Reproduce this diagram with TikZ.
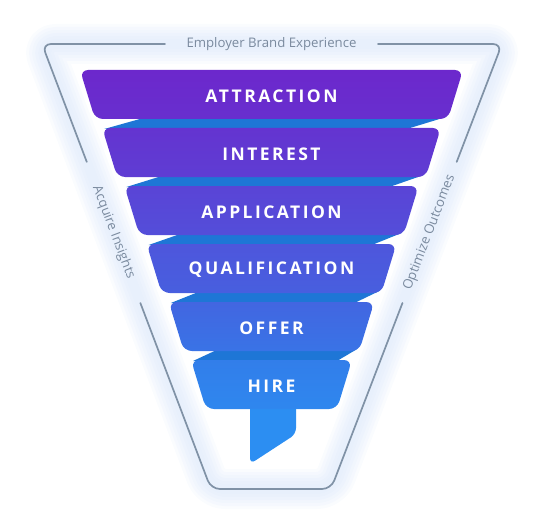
\documentclass[tikz,border=0pt]{standalone}
\usepackage{fontspec}
\setmainfont{Open Sans}
\newfontfamily\bandfont[LetterSpace=14]{Open Sans}
\usetikzlibrary{calc}
\definecolor{framec}{RGB}{128,146,166}
\definecolor{labelc}{RGB}{122,138,158}
\definecolor{glowc}{RGB}{214,228,250}
\definecolor{ribbonc}{RGB}{30,118,214}
\definecolor{fun0}{RGB}{108,40,204}
\definecolor{fun1}{RGB}{100,52,208}
\definecolor{fun2}{RGB}{90,68,214}
\definecolor{fun3}{RGB}{78,86,220}
\definecolor{fun4}{RGB}{66,102,225}
\definecolor{fun5}{RGB}{50,126,234}
\definecolor{fun6}{RGB}{44,142,242}
\tikzset{frame/.style={draw=framec,line width=1.7pt,rounded corners=9pt,line cap=round},
 sidelbl/.style={text=labelc,font=\fontsize{13.2}{15}\selectfont,inner sep=0pt},
 bandlbl/.style={text=white,font=\bandfont\bfseries\fontsize{17.5}{20}\selectfont,inner sep=0pt}}

\begin{document}
\begin{tikzpicture}[x=1pt,y=-1pt]
 \useasboundingbox (0,0) rectangle (543,516);
 \coordinate (TL) at (42,44); \coordinate (TR) at (502,44); \coordinate (BR) at (331,489); \coordinate (BL) at (211,489);
 % soft glow round the frame
 \foreach \w in {40,34,28,22,16,10}
  \draw[glowc,line width=\w pt,opacity=0.13,rounded corners=14pt,line join=round] (TL)--(TR)--(BR)--(BL)--cycle;
 % frame with gaps for the labels
 \coordinate (tg1) at (165,44); \coordinate (tg2) at (378,44);
 \coordinate (lg1) at ($(TL)!0.265!(BL)$); \coordinate (lg2) at ($(TL)!0.582!(BL)$);
 \coordinate (rg1) at ($(TR)!0.265!(BR)$); \coordinate (rg2) at ($(TR)!0.582!(BR)$);
 \draw[frame] (tg1)--(TL)--(lg1); \draw[frame] (lg2)--(BL)--(BR)--(rg2); \draw[frame] (rg1)--(TR)--(tg2);
 \node[sidelbl] (brand) at ($(tg1)!0.5!(tg2)$) {Employer Brand Experience};
 \node[sidelbl,rotate=-69.2] (insights) at ($(lg1)!0.5!(lg2)$) {Acquire Insights};
 \node[sidelbl,rotate=69] (outcomes) at ($(rg1)!0.5!(rg2)$) {Optimize Outcomes};
 % ribbons behind the bands
 \foreach \i in {0,...,4} {
  \pgfmathsetmacro{\yb}{119+58*\i} \pgfmathsetmacro{\yn}{128+58*\i}
  \pgfmathsetmacro{\hb}{176.5-22.2*\i} \pgfmathsetmacro{\hn}{191.5-22.2*(\i+1)}
  \pgfmathsetmacro{\dl}{52-4.25*\i} \pgfmathsetmacro{\dr}{34-4.75*\i}
  \fill[ribbonc] (271.5-\hn+2,\yn+1) -- (271.5-\hb+\dl,\yb-2) -- (271.5+\hb-2,\yb-2) -- (271.5+\hn-\dr,\yn+1) -- cycle;
 }
 % stem
 \fill[fun6,rounded corners=6pt] (250,400) -- (296,400) -- (296,434) -- (250,464) -- cycle;
 % bands
 \foreach \i/\nm/\txt in {0/attraction/ATTRACTION,1/interest/INTEREST,2/application/APPLICATION,3/qualification/QUALIFICATION,4/offer/OFFER,5/hire/HIRE} {
  \pgfmathsetmacro{\yt}{70+58*\i} \pgfmathsetmacro{\yb}{\yt+49} \pgfmathsetmacro{\h}{191.5-22.2*\i} \pgfmathtruncatemacro{\j}{\i+1}
  \shade[top color=fun\i,bottom color=fun\j!55!fun\i,rounded corners=8pt] (271.5-\h,\yt) -- (271.5+\h,\yt) -- (271.5+\h-15,\yb) -- (271.5-\h+15,\yb) -- cycle;
  \node[bandlbl] (\nm) at (271.5,\yt+26) {\txt};
 }
\end{tikzpicture}
\end{document}
